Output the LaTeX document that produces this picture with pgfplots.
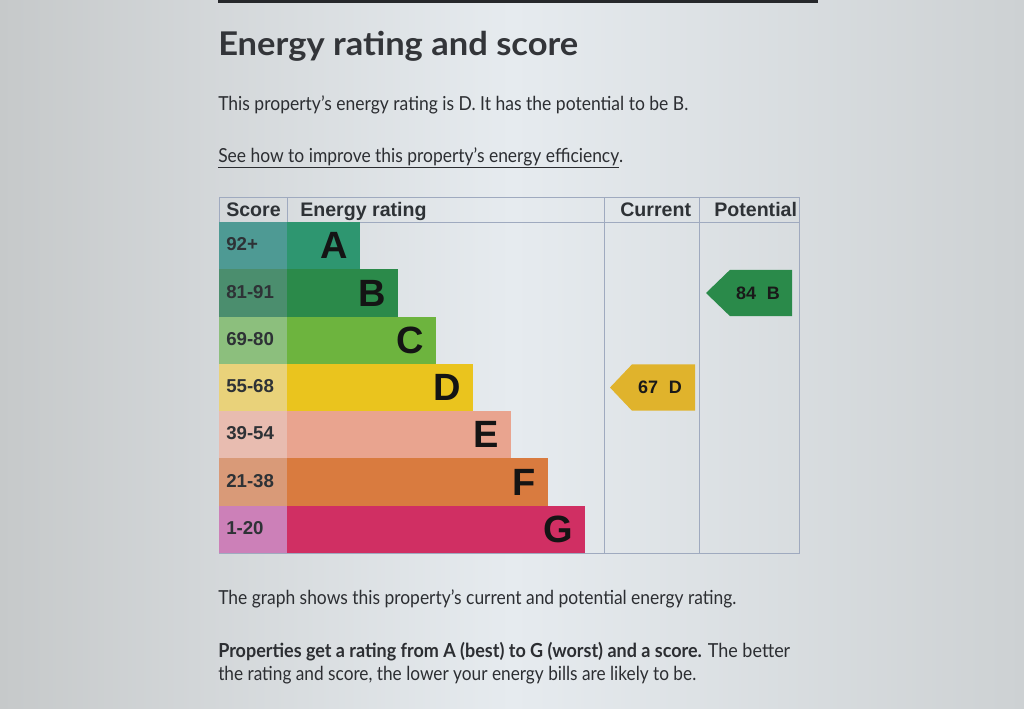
\documentclass[border=0pt]{standalone}
\usepackage{pgfplots}
\pgfplotsset{compat=1.18}
\usepackage{fontspec}
\setmainfont{Liberation Sans}
\newfontfamily\gds{Lato}
\definecolor{bgL}{HTML}{C6C9CA}
\definecolor{bgM}{HTML}{E6EBEF}
\definecolor{bgR}{HTML}{CDD1D3}
\definecolor{topline}{HTML}{26282B}
\definecolor{txt}{HTML}{2C2E32}
\definecolor{ttl}{HTML}{333539}
\definecolor{tablin}{HTML}{9FAABF}
\definecolor{sA}{HTML}{4E9A94}\definecolor{bA}{HTML}{2E9670}
\definecolor{sB}{HTML}{4B8E6E}\definecolor{bB}{HTML}{2B8A4A}
\definecolor{sC}{HTML}{8CBF7D}\definecolor{bC}{HTML}{6DB43E}
\definecolor{sD}{HTML}{E9D27A}\definecolor{bD}{HTML}{EAC41E}
\definecolor{sE}{HTML}{E8BCB0}\definecolor{bE}{HTML}{E9A48F}
\definecolor{sF}{HTML}{D99A78}\definecolor{bF}{HTML}{D97B3F}
\definecolor{sG}{HTML}{CC80B8}\definecolor{bG}{HTML}{D02F63}
\definecolor{arrD}{HTML}{E0B32C}
\definecolor{arrB}{HTML}{2A8A4A}
\definecolor{lbl}{HTML}{2E3236}
\pgfplotsset{cell/.style={xbar, bar width=1, bar shift=0pt, draw=none}}
\newcommand\hdrf{\bfseries\fontsize{14.7pt}{16pt}\selectfont}
\newcommand\scof{\bfseries\fontsize{14pt}{16pt}\selectfont}
\newcommand\ltrf{\bfseries\fontsize{28.5pt}{30pt}\selectfont}
\newcommand\arrf{\bfseries\fontsize{13.5pt}{15pt}\selectfont}
\newcommand\bodyf{\gds\fontsize{14.5pt}{17pt}\selectfont}
\begin{document}
\begin{tikzpicture}[x=0.75pt,y=-0.75pt]
\shade[left color=bgL, right color=bgR, middle color=bgM] (0,0) rectangle (1024,708);
\fill[topline] (218,0) rectangle (818,2.5);
% page text
\node[anchor=base west, inner sep=0, text=ttl] at (218,55)
  {\resizebox{270pt}{\height}{\gds\bfseries\fontsize{24.5pt}{28pt}\selectfont Energy rating and score}};
\node[anchor=base west, inner sep=0, text=txt] at (218,110)
  {\resizebox{352.5pt}{\height}{\bodyf This property’s energy rating is D. It has the potential to be B.}};
\node[anchor=base west, inner sep=0, text=txt] at (218,162)
  {\resizebox{303.75pt}{\height}{\bodyf \underline{See how to improve this property’s energy efficiency}.}};
\node[anchor=base west, inner sep=0, text=txt] at (218,604)
  {\resizebox{388.5pt}{\height}{\bodyf The graph shows this property’s current and potential energy rating.}};
\node[anchor=base west, inner sep=0, text=txt] at (218,657)
  {\resizebox{429pt}{\height}{\bodyf {\bfseries Properties get a rating from A (best) to G (worst) and a score.} The better}};
\node[anchor=base west, inner sep=0, text=txt] at (218,680)
  {\resizebox{358.5pt}{\height}{\bodyf the rating and score, the lower your energy bills are likely to be.}};
\begin{axis}[
  at={(164.25pt,-147.75pt)}, anchor=north west,
  scale only axis, width=435pt, height=267pt,
  xmin=-68, xmax=512, ymin=-0.03, ymax=7.5, y dir=reverse,
  axis line style={draw=tablin, line width=0.75pt},
  xtick={0,317,412}, ytick={0.5}, xticklabels={}, yticklabels={},
  major tick length=0pt,
  xmajorgrids, ymajorgrids, grid style={draw=tablin, line width=0.75pt},
  clip=false,
]
% score cells
\addplot[cell, fill=sA] coordinates {(-68,1)};
\addplot[cell, fill=sB] coordinates {(-68,2)};
\addplot[cell, fill=sC] coordinates {(-68,3)};
\addplot[cell, fill=sD] coordinates {(-68,4)};
\addplot[cell, fill=sE] coordinates {(-68,5)};
\addplot[cell, fill=sF] coordinates {(-68,6)};
\addplot[cell, fill=sG] coordinates {(-68,7)};
% rating bars
\addplot[cell, fill=bA] coordinates {(73,1)};
\addplot[cell, fill=bB] coordinates {(111,2)};
\addplot[cell, fill=bC] coordinates {(149,3)};
\addplot[cell, fill=bD] coordinates {(186,4)};
\addplot[cell, fill=bE] coordinates {(224,5)};
\addplot[cell, fill=bF] coordinates {(261,6)};
\addplot[cell, fill=bG] coordinates {(298,7)};
% arrows
\addplot[fill=arrD, draw=none] coordinates {(323,4) (345,3.51) (408,3.51) (408,4.49) (345,4.49)} -- cycle;
\addplot[fill=arrB, draw=none] coordinates {(419,2) (443,1.51) (505,1.51) (505,2.49) (443,2.49)} -- cycle;
% labels
\node[anchor=west, xshift=5.25pt, yshift=1.5pt, text=lbl, inner sep=0] at (axis cs:-68,1) {\scof 92+};
\node[anchor=west, xshift=5.25pt, yshift=1pt, text=lbl, inner sep=0] at (axis cs:-68,2) {\scof 81-91};
\node[anchor=west, xshift=5.25pt, yshift=1pt, text=lbl, inner sep=0] at (axis cs:-68,3) {\scof 69-80};
\node[anchor=west, xshift=5.25pt, yshift=1pt, text=lbl, inner sep=0] at (axis cs:-68,4) {\scof 55-68};
\node[anchor=west, xshift=5.25pt, yshift=1pt, text=lbl, inner sep=0] at (axis cs:-68,5) {\scof 39-54};
\node[anchor=west, xshift=5.25pt, yshift=1pt, text=lbl, inner sep=0] at (axis cs:-68,6) {\scof 21-38};
\node[anchor=west, xshift=5.25pt, yshift=1pt, text=lbl, inner sep=0] at (axis cs:-68,7) {\scof 1-20};
\node[anchor=east, xshift=-9pt, text=black!92, inner sep=0] at (axis cs:73,1) {\ltrf A};
\node[anchor=east, xshift=-9pt, text=black!92, inner sep=0] at (axis cs:111,2) {\ltrf B};
\node[anchor=east, xshift=-9pt, text=black!92, inner sep=0] at (axis cs:149,3) {\ltrf C};
\node[anchor=east, xshift=-9pt, text=black!92, inner sep=0] at (axis cs:186,4) {\ltrf D};
\node[anchor=east, xshift=-9pt, text=black!92, inner sep=0] at (axis cs:224,5) {\ltrf E};
\node[anchor=east, xshift=-9pt, text=black!92, inner sep=0] at (axis cs:261,6) {\ltrf F};
\node[anchor=east, xshift=-9pt, text=black!92, inner sep=0] at (axis cs:298,7) {\ltrf G};
\node[text=black!90, inner sep=0] at (axis cs:373,4) {\arrf 67\hspace{0.6em}D};
\node[text=black!90, inner sep=0] at (axis cs:471,2) {\arrf 84\hspace{0.6em}B};
\end{axis}
% header text
\node[anchor=base west, inner sep=0, text=lbl] at (226,216) {\hdrf Score};
\node[anchor=base west, inner sep=0, text=lbl] at (300,216) {\hdrf Energy rating};
\node[anchor=base west, inner sep=0, text=lbl] at (620,216) {\hdrf Current};
\node[anchor=base west, inner sep=0, text=lbl] at (714,216) {\hdrf Potential};
\pgfresetboundingbox
\useasboundingbox (0,0) rectangle (1024,708);
\end{tikzpicture}
\end{document}
